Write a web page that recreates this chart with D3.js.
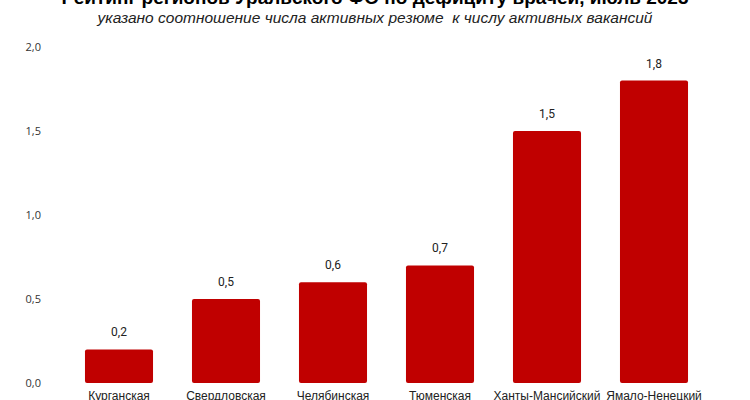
<!DOCTYPE html>
<html><head><meta charset="utf-8">
<script src="https://cdn.jsdelivr.net/npm/d3@7"></script>
<style>body{margin:0;background:#fff;}svg{display:block;}</style>
</head><body>
<svg id="chart" width="750" height="400"></svg>
<script>
const titleText = "Рейтинг регионов Уральского ФО по дефициту врачей, июль 2023";
const subtitleText = "указано соотношение числа активных резюме  к числу активных вакансий";
const categories = ["Курганская","Свердловская","Челябинская","Тюменская","Ханты-Мансийский","Ямало-Ненецкий"];
const values = [0.2, 0.5, 0.6, 0.7, 1.5, 1.8];
const yTicks = [0, 0.5, 1.0, 1.5, 2.0];

const svg = d3.select("#chart");
const fmt = v => d3.format(".1f")(v).replace(".", ",");

const x = d3.scaleBand().domain(categories).range([65.5, 707.5]).paddingInner(0.364).paddingOuter(0.182);
const y = d3.scaleLinear().domain([0, 2]).range([383, 47]);

svg.append("text").attr("x", 375).attr("y", 4).attr("text-anchor", "middle")
  .attr("font-family", "Liberation Sans, Arial, sans-serif").attr("font-weight", "bold")
  .attr("font-size", 19).attr("fill", "#000").text(titleText);
svg.append("text").attr("x", 375).attr("y", 23).attr("text-anchor", "middle")
  .attr("font-family", "Liberation Sans, Arial, sans-serif").attr("font-style", "italic")
  .attr("font-size", 15.5).attr("fill", "#222").style("white-space", "pre").text(subtitleText);

const yAxis = d3.axisLeft(y).tickValues(yTicks).tickFormat(fmt).tickSize(0).tickPadding(0);
const ga = svg.append("g").attr("transform", "translate(41,0)").call(yAxis);
ga.select(".domain").remove();
ga.selectAll("text").attr("font-family", "Open Sans, Liberation Sans, sans-serif").attr("font-size", 11).attr("fill", "#333");

svg.append("g").selectAll("rect").data(values).join("rect")
  .attr("x", (d, i) => x(categories[i]))
  .attr("y", d => y(d))
  .attr("width", x.bandwidth())
  .attr("height", d => y(0) - y(d))
  .attr("rx", 2)
  .attr("fill", "#C00000");

svg.append("g").selectAll("text").data(values).join("text")
  .attr("x", (d, i) => x(categories[i]) + x.bandwidth() / 2)
  .attr("y", d => y(d) - 13)
  .attr("text-anchor", "middle")
  .attr("font-family", "Roboto, Liberation Sans, sans-serif").attr("font-size", 12).attr("fill", "#222")
  .text(d => fmt(d));

const xAxis = d3.axisBottom(x).tickSize(0).tickPadding(0);
const gx = svg.append("g").attr("transform", "translate(0,391)").call(xAxis);
gx.select(".domain").remove();
gx.selectAll("text").attr("dy", "0.71em").attr("font-family", "Liberation Sans, Arial, sans-serif").attr("font-size", 12).attr("fill", "#222");
</script>
</body></html>
